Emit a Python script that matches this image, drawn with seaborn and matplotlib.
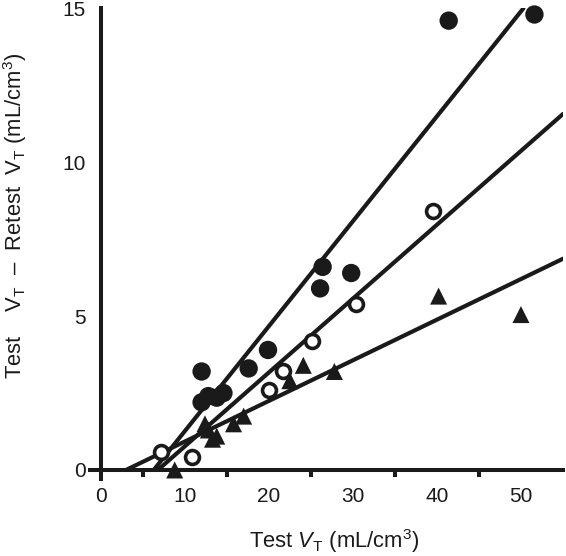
import numpy as np
import pandas as pd
import matplotlib
matplotlib.use("Agg")
import matplotlib.pyplot as plt
import seaborn as sns

# filled circles
fc_x = [12.0, 12.0, 12.8, 13.8, 14.6, 17.6, 19.9, 26.1, 26.4, 29.8, 41.4, 51.6]
fc_y = [3.2, 2.2, 2.4, 2.35, 2.5, 3.3, 3.9, 5.9, 6.6, 6.4, 14.6, 14.8]
# open circles
oc_x = [7.2, 10.8, 20.0, 21.7, 25.1, 30.4, 39.5]
oc_y = [0.6, 0.42, 2.6, 3.2, 4.2, 5.4, 8.4]
# triangles
tr_x = [8.8, 12.4, 12.8, 13.3, 13.8, 15.8, 17.0, 22.5, 24.1, 27.8, 40.2, 50.0]
tr_y = [0.0, 1.5, 1.3, 1.0, 1.1, 1.5, 1.75, 2.9, 3.4, 3.2, 5.65, 5.05]

# fitted lines (slope, x-intercept)
fit_slope = [0.341, 0.240, 0.132]
fit_xint = [6.3, 6.8, 3.0]

sns.set_theme(style="white")
plt.rcParams["font.family"] = ["Liberation Sans", "DejaVu Sans"]
plt.rcParams["mathtext.fontset"] = "custom"
plt.rcParams["mathtext.rm"] = "Liberation Sans"
plt.rcParams["mathtext.it"] = "Liberation Sans:italic"

fig = plt.figure(figsize=(5.66, 5.56), dpi=100)
ax = fig.add_axes([0.1587, 0.1381, 0.836, 0.8469])

XMAX, YMAX = 55, 15
for m, b in zip(fit_slope, fit_xint):
    x_end = min(XMAX, b + YMAX / m)
    lx = np.array([b, x_end])
    line = pd.DataFrame({"x": lx, "y": m * (lx - b)})
    sns.lineplot(data=line, x="x", y="y", ax=ax, color="#1a1a1a", lw=3.0,
                 solid_capstyle="round", zorder=2)

sns.scatterplot(x=fc_x, y=fc_y, ax=ax, marker="o", s=175, color="#1a1a1a",
                edgecolor="none", zorder=3, clip_on=False)
sns.scatterplot(x=oc_x, y=oc_y, ax=ax, marker="o", s=100, facecolor="white",
                edgecolor="#1a1a1a", linewidth=2.6, zorder=3, clip_on=False)
sns.scatterplot(x=tr_x, y=tr_y, ax=ax, marker="^", s=150, color="#1a1a1a",
                edgecolor="none", zorder=3, clip_on=False)

ax.set_xlim(-1.3, XMAX)
ax.set_ylim(-0.3, YMAX)
for side in ["top", "right"]:
    ax.spines[side].set_visible(False)
ax.spines["left"].set_position(("data", 0))
ax.spines["bottom"].set_position(("data", 0))
for side in ["left", "bottom"]:
    ax.spines[side].set_linewidth(2.9)
    ax.spines[side].set_color("#1a1a1a")
    ax.spines[side].set_zorder(1)

ax.set_xticks([0, 10, 20, 30, 40, 50])
ax.set_xticks([5, 15, 25, 35, 45], minor=True)
ax.set_yticks([0, 5, 10, 15])
ax.tick_params(axis="both", which="major", direction="out", length=8.6, width=2.9,
               color="#1a1a1a", labelsize=15, labelcolor="#1a1a1a")
ax.tick_params(axis="x", which="minor", direction="out", length=5, width=2.9,
               color="#1a1a1a", bottom=True)
ax.tick_params(axis="x", which="major", pad=3.5)
ax.tick_params(axis="y", which="major", pad=2)

ax.set_xlabel("Test $\\mathit{V}_\\mathrm{T}$ (mL/cm$^3$)", fontsize=15.8, color="#1a1a1a")
ax.set_ylabel("Test    V$_\\mathrm{T}$  \u2013  Retest  V$_\\mathrm{T}$ (mL/cm$^3$)",
              fontsize=15.8, color="#1a1a1a")
ax.xaxis.set_label_coords(0.516, -0.101)
ax.yaxis.set_label_coords(-0.128, 0.56)

fig.savefig("out.png", dpi=100)
